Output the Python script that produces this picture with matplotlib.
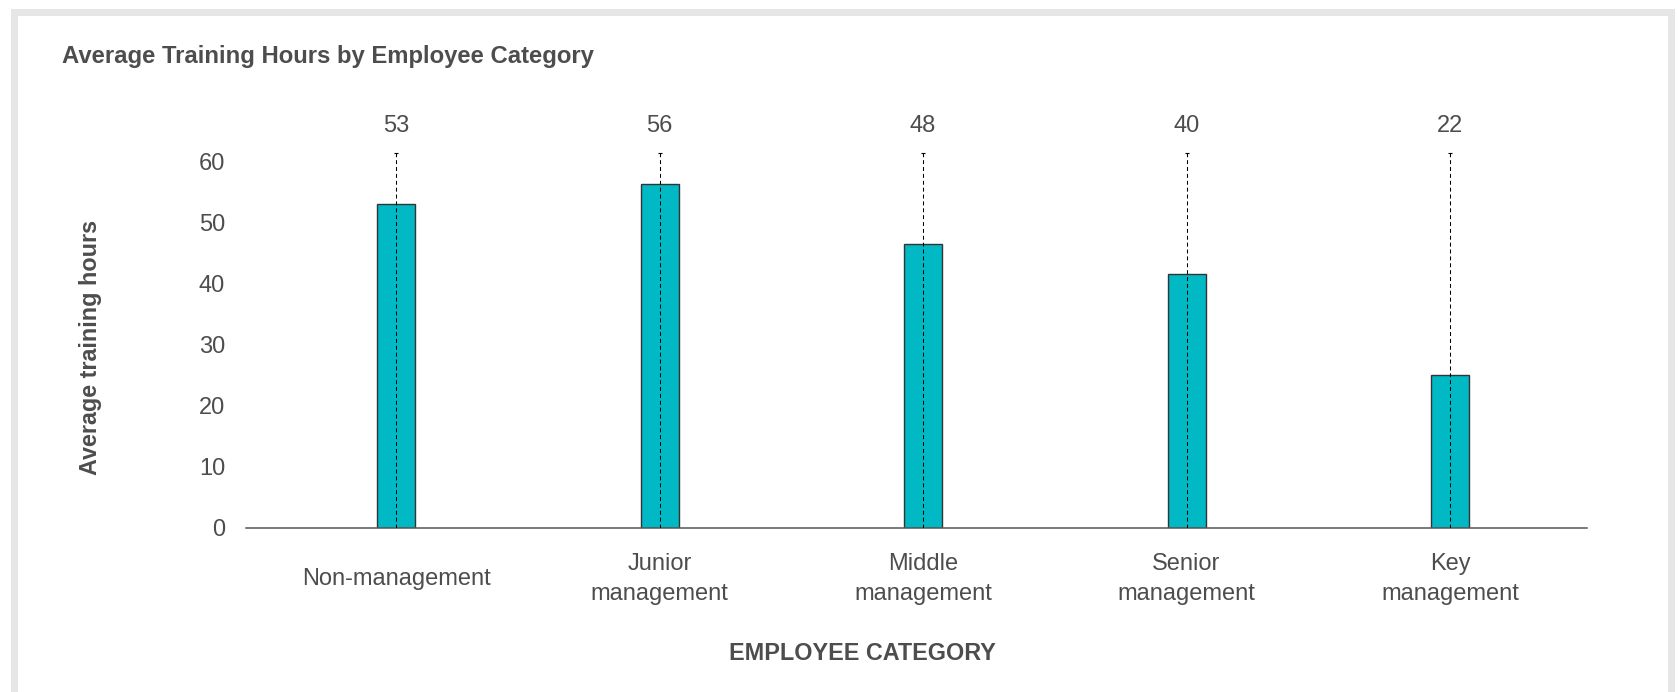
import matplotlib
matplotlib.use("Agg")
import matplotlib.pyplot as plt
from matplotlib.patches import Rectangle

plt.rcParams['font.family'] = ['Liberation Sans', 'DejaVu Sans']

# ---- data ----
categories = ["Non-management", "Junior\nmanagement", "Middle\nmanagement",
              "Senior\nmanagement", "Key\nmanagement"]
bar_values = [53.0, 56.4, 46.5, 41.6, 25.0]
value_labels = ["53", "56", "48", "40", "22"]
whisker_low = [0, 0, 0, 0, 0]
whisker_high = [61.5, 61.5, 61.5, 61.5, 61.5]
y_ticks = [0, 10, 20, 30, 40, 50, 60]

W, H = 1678, 692
DPI = 100
TEXT = '#4d4d4d'
BAR = '#00b9c4'

fig = plt.figure(figsize=(W / DPI, H / DPI), dpi=DPI)
fig.patch.set_facecolor('white')

# outer frame (light gray border, open at the bottom)
frame = Rectangle((13.5, -30), 1657, H - 11.5 + 30, transform=None,
                  fill=False, edgecolor='#e6e6e6', linewidth=7 * 72 / DPI)
fig.patches.append(frame)

# axes placement in pixels
x0_px, x1_px = 246, 1587
y0_px = 527.7          # y = 0 (from top)
px_per_unit = 6.1
ymax = 66
ax_bottom = (H - y0_px) / H
ax_height = (ymax * px_per_unit) / H
ax = fig.add_axes([x0_px / W, ax_bottom, (x1_px - x0_px) / W, ax_height])

x = list(range(len(categories)))
ax.bar(x, bar_values, width=0.144, color=BAR, edgecolor='#333333',
       linewidth=1.0, zorder=2)

ax.vlines(x, whisker_low, whisker_high, colors='black', linewidth=0.75,
          linestyles=(0, (3.8, 2.8)), zorder=3)
ax.plot(x, whisker_high, linestyle='none', marker='_', markersize=3.5,
        markeredgewidth=0.8, color='black', zorder=3)

for xi, lab in zip(x, value_labels):
    ax.text(xi, (y0_px - 131.7) / px_per_unit, lab, ha='center', va='baseline',
            fontsize=17, color=TEXT)

ax.set_xlim(-0.57, 4.52)
ax.set_ylim(0, ymax)
ax.set_yticks(y_ticks)
ax.set_yticklabels([str(t) for t in y_ticks])
ax.set_xticks(x)
ax.set_xticklabels(categories)
ax.tick_params(axis='both', length=0, labelsize=17, labelcolor=TEXT)
ax.tick_params(axis='y', pad=15)
ax.tick_params(axis='x', pad=37)
for lbl in ax.get_xticklabels():
    lbl.set_verticalalignment('center')
    lbl.set_linespacing(1.5)

for s in ['top', 'right', 'left']:
    ax.spines[s].set_visible(False)
ax.spines['bottom'].set_color('#555555')
ax.spines['bottom'].set_linewidth(1.1)
ax.patch.set_alpha(0)

# title and axis labels
fig.text(62 / W, 1 - 63 / H, "Average Training Hours by Employee Category",
         ha='left', va='baseline', fontsize=17.2, fontweight='bold', color=TEXT)
fig.text(91 / W, 1 - 347 / H, "Average training hours", rotation=90,
         ha='center', va='center', fontsize=16.8, fontweight='bold', color=TEXT)
fig.text(862 / W, 1 - 653 / H, "EMPLOYEE CATEGORY", ha='center', va='center',
         fontsize=16.8, fontweight='bold', color=TEXT)

fig.savefig("out.png", dpi=DPI, facecolor='white')
